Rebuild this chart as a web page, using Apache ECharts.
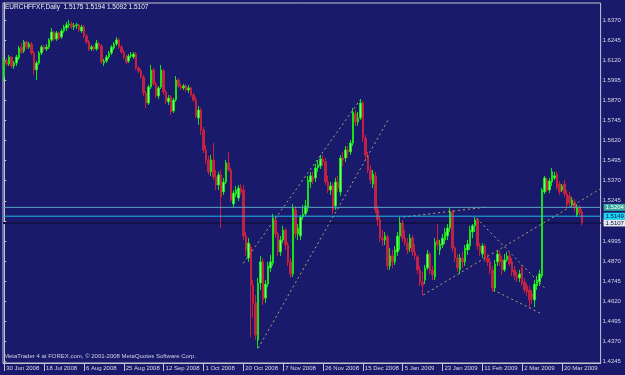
<!DOCTYPE html>
<html><head><meta charset="utf-8">
<script src="https://cdn.jsdelivr.net/npm/echarts@6/dist/echarts.min.js"></script>
<style>html,body{margin:0;padding:0;background:#1a1a6c;}#c{width:625px;height:375px;}</style>
</head><body><div id="c"></div>
<script>
const symbol = 'EURCHFFXF';
const period = 'Daily';
const copyright = 'MetaTrader 4 at FOREX.com, \u00a9 2001-2008 MetaQuotes Software Corp.';

const openP = [
1.6015,1.6114,1.6096,1.6139,1.6083,1.6102,1.6133,1.6201,1.6177,1.6233,
1.6201,1.6220,1.6164,1.6059,1.6102,1.6164,1.6201,1.6189,1.6201,1.6245,
1.6295,1.6251,1.6289,1.6264,1.6301,1.6320,1.6339,1.6345,1.6326,1.6333,
1.6339,1.6301,1.6326,1.6270,1.6233,1.6189,1.6201,1.6189,1.6220,1.6208,
1.6102,1.6114,1.6139,1.6164,1.6195,1.6220,1.6245,1.6201,1.6170,1.6139,
1.6114,1.6145,1.6139,1.6158,1.6071,1.6052,1.6015,1.5916,1.5853,1.5953,
1.6059,1.5972,1.5897,1.5953,1.6052,1.5922,1.5860,1.5891,1.5804,1.5872,
1.5996,1.5959,1.5947,1.5959,1.5934,1.5947,1.5903,1.5872,1.5760,1.5810,
1.5685,1.5561,1.5499,1.5425,1.5499,1.5393,1.5343,1.5406,1.5300,1.5362,
1.5480,1.5437,1.5225,1.5287,1.5262,1.5324,1.5312,1.5026,1.4889,1.4957,
1.4721,1.4609,1.4379,1.4733,1.4865,1.4640,1.4727,1.4827,1.4858,1.5126,
1.5038,1.4927,1.5001,1.5063,1.4970,1.4865,1.4790,1.5188,1.5038,1.5026,
1.5144,1.5163,1.5200,1.5362,1.5393,1.5387,1.5449,1.5462,1.5505,1.5487,
1.5362,1.5312,1.5337,1.5213,1.5362,1.5300,1.5511,1.5511,1.5561,1.5549,
1.5604,1.5785,1.5736,1.5760,1.5853,1.5635,1.5524,1.5437,1.5349,1.5400,
1.5188,1.5126,1.5013,1.5001,1.5020,1.4840,1.4902,1.4865,1.4927,1.5026,
1.5107,1.5013,1.4982,1.4951,1.5013,1.4927,1.4896,1.4815,1.4740,1.4752,
1.4827,1.4914,1.4815,1.4771,1.5001,1.4939,1.4970,1.5001,1.5026,1.5076,
1.5176,1.4951,1.4889,1.4815,1.4889,1.4865,1.4939,1.4964,1.5051,1.5089,
1.5126,1.4964,1.4914,1.4964,1.4889,1.4865,1.4815,1.4702,1.4865,1.4914,
1.4877,1.4815,1.4877,1.4902,1.4865,1.4815,1.4778,1.4765,1.4827,1.4740,
1.4715,1.4690,1.4665,1.4628,1.4715,1.4740,1.4778,1.5300,1.5374,1.5312,
1.5362,1.5387,1.5412,1.5349,1.5312,1.5349,1.5287,1.5275,1.5219,1.5238,
1.5157,1.5206,1.5175
];
const closeP = [
1.6121,1.6096,1.6139,1.6083,1.6102,1.6139,1.6195,1.6170,1.6233,1.6201,
1.6220,1.6164,1.6059,1.6102,1.6164,1.6201,1.6189,1.6201,1.6245,1.6295,
1.6251,1.6289,1.6257,1.6301,1.6326,1.6339,1.6345,1.6326,1.6333,1.6339,
1.6307,1.6326,1.6270,1.6233,1.6189,1.6201,1.6189,1.6226,1.6208,1.6108,
1.6114,1.6139,1.6164,1.6201,1.6220,1.6245,1.6201,1.6170,1.6139,1.6108,
1.6145,1.6152,1.6158,1.6071,1.6052,1.6015,1.5916,1.5853,1.5953,1.6059,
1.5972,1.5897,1.5947,1.6059,1.5922,1.5866,1.5884,1.5797,1.5872,1.5996,
1.5959,1.5947,1.5959,1.5934,1.5947,1.5903,1.5872,1.5772,1.5810,1.5685,
1.5561,1.5499,1.5425,1.5499,1.5393,1.5343,1.5406,1.5268,1.5362,1.5480,
1.5437,1.5250,1.5293,1.5312,1.5324,1.5300,1.5026,1.4939,1.4982,1.4721,
1.4609,1.4410,1.4733,1.4865,1.4628,1.4727,1.4840,1.4865,1.5138,1.5038,
1.4927,1.5001,1.5063,1.4970,1.4865,1.4790,1.5200,1.5038,1.5076,1.5144,
1.5163,1.5213,1.5374,1.5400,1.5374,1.5449,1.5468,1.5505,1.5487,1.5362,
1.5312,1.5337,1.5188,1.5362,1.5324,1.5511,1.5499,1.5561,1.5549,1.5604,
1.5797,1.5736,1.5760,1.5853,1.5635,1.5530,1.5437,1.5374,1.5412,1.5188,
1.5126,1.5013,1.5001,1.5026,1.4840,1.4902,1.4865,1.4939,1.5026,1.5107,
1.5013,1.4982,1.4939,1.5013,1.4927,1.4902,1.4815,1.4740,1.4721,1.4827,
1.4914,1.4815,1.4784,1.4989,1.4970,1.4976,1.5013,1.5051,1.5076,1.5176,
1.4951,1.4889,1.4827,1.4889,1.4865,1.4951,1.4976,1.5063,1.5089,1.5126,
1.4964,1.4927,1.4964,1.4889,1.4865,1.4815,1.4702,1.4852,1.4914,1.4865,
1.4815,1.4877,1.4902,1.4852,1.4803,1.4778,1.4765,1.4790,1.4733,1.4690,
1.4678,1.4628,1.4640,1.4727,1.4752,1.4790,1.5312,1.5387,1.5312,1.5368,
1.5425,1.5400,1.5330,1.5300,1.5337,1.5287,1.5219,1.5231,1.5250,1.5200,
1.5206,1.5169,1.5107
];
const lowP = [
1.5984,1.6083,1.6083,1.6071,1.6065,1.6083,1.6121,1.6158,1.6164,1.6189,
1.6189,1.6152,1.6027,1.5996,1.6090,1.6152,1.6177,1.6177,1.6189,1.6233,
1.6239,1.6239,1.6245,1.6251,1.6289,1.6301,1.6320,1.6314,1.6307,1.6314,
1.6295,1.6289,1.6257,1.6220,1.6177,1.6177,1.6177,1.6177,1.6189,1.6096,
1.6083,1.6102,1.6127,1.6152,1.6183,1.6208,1.6189,1.6158,1.6127,1.6096,
1.6102,1.6133,1.6127,1.6059,1.6040,1.6003,1.5897,1.5822,1.5841,1.5940,
1.5959,1.5884,1.5878,1.5940,1.5903,1.5847,1.5841,1.5779,1.5791,1.5860,
1.5947,1.5934,1.5934,1.5922,1.5916,1.5891,1.5860,1.5760,1.5717,1.5654,
1.5542,1.5474,1.5406,1.5400,1.5374,1.5312,1.5312,1.5076,1.5281,1.5349,
1.5425,1.5238,1.5206,1.5268,1.5244,1.5281,1.5001,1.4902,1.4865,1.4397,
1.4516,1.4379,1.4329,1.4690,1.4597,1.4609,1.4708,1.4803,1.4840,1.5013,
1.4902,1.4902,1.4982,1.4939,1.4840,1.4765,1.4771,1.5013,1.5001,1.5001,
1.5126,1.5151,1.5176,1.5324,1.5349,1.5362,1.5425,1.5443,1.5462,1.5343,
1.5293,1.5281,1.5163,1.5188,1.5300,1.5275,1.5462,1.5487,1.5511,1.5530,
1.5586,1.5711,1.5711,1.5748,1.5611,1.5499,1.5418,1.5349,1.5324,1.5169,
1.5089,1.4989,1.4964,1.4970,1.4815,1.4815,1.4827,1.4846,1.4902,1.4939,
1.4989,1.4964,1.4914,1.4927,1.4902,1.4877,1.4790,1.4715,1.4659,1.4727,
1.4815,1.4790,1.4752,1.4752,1.4939,1.4908,1.4951,1.4976,1.5001,1.5051,
1.4927,1.4865,1.4803,1.4790,1.4827,1.4840,1.4908,1.4939,1.5013,1.5051,
1.4939,1.4902,1.4889,1.4865,1.4840,1.4790,1.4678,1.4678,1.4840,1.4840,
1.4784,1.4803,1.4865,1.4840,1.4778,1.4752,1.4740,1.4740,1.4715,1.4671,
1.4653,1.4578,1.4603,1.4584,1.4690,1.4715,1.4765,1.5287,1.5300,1.5293,
1.5337,1.5374,1.5312,1.5281,1.5300,1.5268,1.5200,1.5213,1.5206,1.5176,
1.5144,1.5151,1.5092
];
const highP = [
1.6139,1.6133,1.6152,1.6145,1.6114,1.6152,1.6208,1.6226,1.6245,1.6239,
1.6233,1.6233,1.6177,1.6114,1.6177,1.6214,1.6214,1.6220,1.6257,1.6320,
1.6301,1.6301,1.6295,1.6314,1.6339,1.6358,1.6370,1.6358,1.6351,1.6351,
1.6345,1.6339,1.6339,1.6282,1.6245,1.6214,1.6214,1.6245,1.6233,1.6220,
1.6127,1.6152,1.6177,1.6214,1.6233,1.6264,1.6257,1.6214,1.6183,1.6152,
1.6158,1.6170,1.6170,1.6170,1.6083,1.6065,1.6027,1.5928,1.5965,1.6090,
1.6071,1.5984,1.5959,1.6090,1.6065,1.5934,1.5903,1.5903,1.5884,1.6021,
1.6009,1.5972,1.5972,1.5972,1.5965,1.5953,1.5916,1.5891,1.5835,1.5822,
1.5704,1.5592,1.5524,1.5530,1.5604,1.5437,1.5425,1.5437,1.5387,1.5499,
1.5549,1.5449,1.5312,1.5337,1.5343,1.5349,1.5343,1.5051,1.5013,1.4976,
1.4752,1.4659,1.4765,1.4902,1.4889,1.4752,1.4865,1.4908,1.5163,1.5151,
1.5051,1.5026,1.5089,1.5076,1.4989,1.4889,1.5225,1.5213,1.5101,1.5157,
1.5219,1.5250,1.5400,1.5425,1.5425,1.5474,1.5499,1.5530,1.5530,1.5511,
1.5400,1.5362,1.5355,1.5387,1.5400,1.5530,1.5549,1.5586,1.5586,1.5623,
1.5822,1.5810,1.5797,1.5878,1.5866,1.5654,1.5549,1.5468,1.5437,1.5425,
1.5213,1.5151,1.5063,1.5051,1.5038,1.4951,1.4939,1.4964,1.5051,1.5144,
1.5126,1.5063,1.5013,1.5038,1.5032,1.4976,1.4908,1.4840,1.4803,1.4846,
1.4939,1.4927,1.4840,1.5013,1.5101,1.5001,1.5038,1.5076,1.5101,1.5200,
1.5188,1.4964,1.4914,1.4914,1.4927,1.4970,1.5001,1.5089,1.5101,1.5144,
1.5138,1.4982,1.4982,1.4976,1.4914,1.4889,1.4840,1.4877,1.4939,1.4939,
1.4902,1.4914,1.4927,1.4927,1.4889,1.4840,1.4803,1.4815,1.4846,1.4765,
1.4733,1.4715,1.4690,1.4752,1.4778,1.4815,1.5324,1.5400,1.5387,1.5387,
1.5449,1.5425,1.5425,1.5368,1.5349,1.5374,1.5312,1.5300,1.5268,1.5256,
1.5225,1.5219,1.5194
];

const yTicks = [1.4245,1.4370,1.4495,1.4620,1.4745,1.4870,1.4995,1.5120,1.5245,1.5370,1.5495,1.5620,1.5745,1.5870,1.5995,1.6120,1.6245,1.6370];
const priceLines = [1.5204, 1.5149, 1.5107];
const priceLineColors = ['#5aa6c4', '#20b4e8', '#10104c'];
const priceBoxColors = ['#3aa89c', '#18d8f4', '#e8e8ec'];
const priceBoxText = ['#ffffff', '#0a0a50', '#0a0a50'];
// trendlines: [barIndex, price] endpoints
const trendLines = [
  [[96.0, 1.4856], [142.9, 1.5872]],
  [[102.0, 1.4328], [154.2, 1.5748]],
  [[160.3, 1.5144], [193.8, 1.5206]],
  [[168.3, 1.4659], [239.3, 1.5318]],
  [[189.7, 1.5136], [217.8, 1.4690]],
  [[196.4, 1.4690], [215.9, 1.4541]]
];
const holidays = ['2008-12-25', '2009-01-01'];
const months = ['Jan','Feb','Mar','Apr','May','Jun','Jul','Aug','Sep','Oct','Nov','Dec'];
const N = 240;
const labelEvery = 16;

const cats = [];
const d = new Date(Date.UTC(2008, 5, 30));
while (cats.length < N) {
  const key = d.toISOString().slice(0, 10);
  if (d.getUTCDay() !== 6 && holidays.indexOf(key) < 0) {
    cats.push(d.getUTCDate() + ' ' + months[d.getUTCMonth()] + ' ' + d.getUTCFullYear());
  }
  d.setUTCDate(d.getUTCDate() + 1);
}
const candles = openP.map((o, i) => [o, closeP[i], lowP[i], highP[i]]);
const last = openP.length - 1;
const header = symbol + ',' + period + '  ' + openP[last].toFixed(4) + ' ' + highP[last].toFixed(4) + ' ' + lowP[last].toFixed(4) + ' ' + closeP[last].toFixed(4);

const FONT = 'Liberation Sans';
const showIdx = (idx) => idx % labelEvery === 0 && idx <= 224;

const priceLineSeries = priceLines.map((p, k) => ({
  type: 'line', xAxisIndex: 1, data: [[-0.5, p], [N - 0.5, p]], symbol: 'none', silent: true,
  z: k === 2 ? 1 : 4,
  lineStyle: {color: priceLineColors[k], width: k === 2 ? 2 : 1},
  endLabel: {show: true, distance: 3, formatter: p.toFixed(4), fontSize: 6, fontFamily: FONT,
    color: priceBoxText[k], backgroundColor: priceBoxColors[k], padding: [1, 2, 0, 2]},
  labelLayout: {hideOverlap: false}
}));

const chart = echarts.init(document.getElementById('c'), null, {renderer: 'canvas'});
chart.setOption({
  animation: false,
  backgroundColor: '#1a1a6c',
  grid: {left: 3, right: 24.4, top: 3, bottom: 12, show: true, borderColor: '#c4c4d0', borderWidth: 1},
  xAxis: [{
    type: 'category', data: cats, boundaryGap: true,
    axisLine: {lineStyle: {color: '#c4c4d0', width: 1}},
    axisTick: {show: true, alignWithLabel: true, interval: showIdx, length: 8, lineStyle: {color: '#c4c4d0'}},
    axisLabel: {interval: showIdx, color: '#d8d8e4', fontSize: 6, fontFamily: FONT, margin: 2, align: 'left', padding: [0,0,0,2]},
    splitLine: {show: false}
  }, {
    type: 'value', min: -0.5, max: N - 0.5, show: false
  }],
  yAxis: {
    type: 'value', position: 'right', min: 1.4236, max: 1.6475, scale: true,
    axisLine: {show: true, lineStyle: {color: '#c4c4d0', width: 1}},
    axisTick: {show: true, customValues: yTicks, length: 2, lineStyle: {color: '#c4c4d0'}},
    axisLabel: {customValues: yTicks, formatter: v => v.toFixed(4), color: '#d8d8e4', fontSize: 6, fontFamily: FONT, margin: 2},
    splitLine: {show: false}
  },
  series: [{
    type: 'candlestick', data: candles, barWidth: 2, z: 2,
    itemStyle: {color: '#7cff7c', color0: '#a82a58', borderColor: '#18e018', borderColor0: '#c8203c', borderWidth: 1}
  }].concat(priceLineSeries).concat(trendLines.map(seg => ({
    type: 'line', xAxisIndex: 1, data: seg, symbol: 'none', silent: true, z: 3,
    lineStyle: {color: '#b4a46a', width: 1, type: [2, 3]}
  }))),
  graphic: [
    {type: 'text', left: 5, top: 4, style: {text: header, fill: '#f0f0f4', font: '6.5px "' + FONT + '"'}},
    {type: 'text', left: 4, top: 353, style: {text: copyright, fill: '#d0d0dc', font: '6px "' + FONT + '"'}}
  ]
});
</script></body></html>
